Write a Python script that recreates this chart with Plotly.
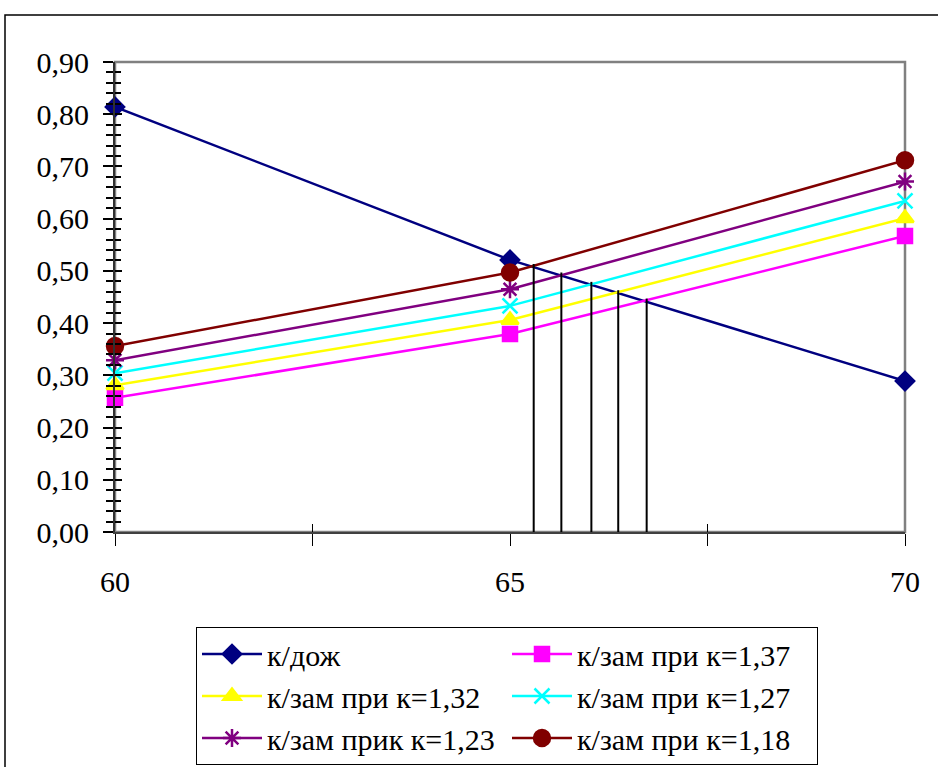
import plotly.graph_objects as go

# ---- data ----
x_vals = [60, 65, 70]
k_dozh = [0.814, 0.521, 0.289]
k_zam_137 = [0.257, 0.379, 0.567]
k_zam_132 = [0.281, 0.406, 0.601]
k_zam_127 = [0.304, 0.433, 0.634]
k_zam_123 = [0.329, 0.465, 0.671]
k_zam_118 = [0.356, 0.497, 0.712]

intersect_x = [65.30, 65.65, 66.03, 66.37, 66.73]
intersect_y = [0.513, 0.497, 0.479, 0.463, 0.447]

names = ["к/дож", "к/зам при к=1,37", "к/зам при к=1,32",
         "к/зам при к=1,27", "к/зам прик к=1,23", "к/зам при к=1,18"]
series = [k_dozh, k_zam_137, k_zam_132, k_zam_127, k_zam_123, k_zam_118]
colors = ["#000080", "#FF00FF", "#FFFF00", "#00FFFF", "#800080", "#800000"]
symbols = ["diamond", "square", "triangle-up", "x-thin-open", "asterisk-open", "circle"]
sizes = [14, 14, 15, 15, 15, 16]

y_ticks = [i / 10 for i in range(10)]
x_tickvals = [60, 62.5, 65, 67.5, 70]
x_ticktext = ["60", "", "65", "", "70"]
x_mid_ticks = [62.5, 67.5]

FONT = "Liberation Serif"
FS = 30

fig = go.Figure()
for name, ys, c, s, sz in zip(names, series, colors, symbols, sizes):
    fig.add_trace(go.Scatter(
        x=x_vals, y=ys, name=name, mode="lines+markers", cliponaxis=False,
        line=dict(color=c, width=2.5),
        marker=dict(symbol=s, size=sz, color=c, line=dict(color=c, width=2.5)),
    ))

# drop lines
dx, dy = [], []
for xi, yi in zip(intersect_x, intersect_y):
    dx += [xi, xi, None]
    dy += [0, yi, None]
fig.add_trace(go.Scatter(x=dx, y=dy, mode="lines", line=dict(color="black", width=2),
                         showlegend=False, hoverinfo="skip"))

# dummy trace for overlay axes (inside ticks)
fig.add_trace(go.Scatter(x=[None], y=[None], xaxis="x2", yaxis="y2", showlegend=False))

W, H = 938, 767
L, R, T, B = 115, 33, 62, 235
pw, ph = W - L - R, H - T - B

fig.update_layout(
    width=W, height=H,
    margin=dict(l=L, r=R, t=T, b=B, autoexpand=False),
    paper_bgcolor="white", plot_bgcolor="white",
    separators=", ",
    font=dict(family=FONT, size=FS, color="black"),
    showlegend=True,
    legend=dict(
        orientation="h", x=(196 - L) / pw, y=(532 - 627) / ph,
        xanchor="left", yanchor="top",
        bordercolor="black", borderwidth=1,
        entrywidth=235, entrywidthmode="pixels",
        font=dict(family=FONT, size=FS, color="black"),
        itemwidth=60, tracegroupgap=0,
    ),
    xaxis=dict(
        range=[60, 70], tickvals=x_tickvals, ticktext=x_ticktext,
        showgrid=False, zeroline=False, showline=True, linecolor="#404040", linewidth=2,
        ticks="outside", ticklen=12, tickwidth=1, tickcolor="black",
        ticklabelstandoff=10,
        tickfont=dict(family=FONT, size=FS),
    ),
    yaxis=dict(
        range=[0, 0.9], tickvals=y_ticks, tickformat=".2f",
        showgrid=False, zeroline=False, showline=True, linecolor="#303030", linewidth=2,
        ticks="outside", ticklen=10, tickwidth=1.5, tickcolor="black",
        minor=dict(dtick=0.02, ticks="outside", ticklen=7, tickwidth=1.5, tickcolor="black"),
        ticklabelstandoff=8,
        tickfont=dict(family=FONT, size=FS),
    ),
    xaxis2=dict(
        range=[60, 70], overlaying="x", anchor="y2", side="bottom",
        tickvals=x_mid_ticks, showticklabels=False, showgrid=False, zeroline=False,
        showline=False, ticks="inside", ticklen=8, tickwidth=1, tickcolor="black",
    ),
    yaxis2=dict(
        range=[0, 0.9], overlaying="y", anchor="x2", side="left",
        tickvals=y_ticks, showticklabels=False, showgrid=False, zeroline=False,
        showline=False, ticks="inside", ticklen=7, tickwidth=1.5, tickcolor="black",
        minor=dict(dtick=0.02, ticks="inside", ticklen=6, tickwidth=1.5, tickcolor="black"),
    ),
    shapes=[
        dict(type="rect", xref="paper", yref="paper", x0=0, x1=1, y0=0, y1=1,
             line=dict(color="#808080", width=2.5), layer="below"),
        dict(type="rect", xref="paper", yref="paper",
             x0=(5 - L) / pw, x1=(945 - L) / pw,
             y0=(532 - 780) / ph, y1=1 + (T - 15) / ph,
             line=dict(color="black", width=1.5), layer="below"),
    ],
)

fig.write_html("out.html")
